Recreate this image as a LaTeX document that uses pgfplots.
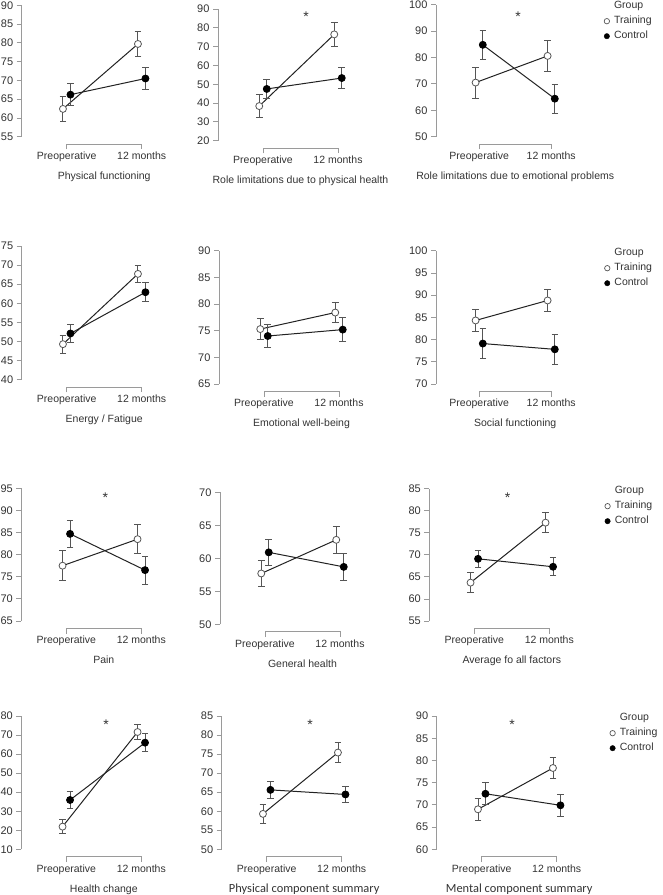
\documentclass[border=0pt]{standalone}
\usepackage{fontspec}
\setmainfont{Liberation Sans}
\newfontfamily\carlito{Carlito}
\usepackage{pgfplots}
\pgfplotsset{compat=1.18}
\definecolor{axgray}{HTML}{9A9A9A}
\definecolor{txt}{HTML}{333333}
\definecolor{ebar}{HTML}{555555}
\definecolor{lin}{HTML}{222222}
\pgfplotsset{
 common/.style={
  scale only axis, anchor=south west, clip=false,
  xmin=0.4, xmax=2.25,
  hide x axis, axis y line*=left,
  tick align=outside, major tick length=5pt,
  axis line style={draw=axgray, line width=0.8pt},
  tick style={draw=axgray, line width=0.8pt},
  yticklabel style={font=\fontsize{11}{13}\selectfont, text=txt},
  /pgf/number format/assume math mode=true,
  legend cell align=left,
  legend image code/.code={\draw[##1] plot coordinates {(0pt,0pt)};},
  legend style={draw=none, fill=none, inner sep=0pt, anchor=north west,
    font=\fontsize{10.5}{12}\selectfont, text=txt, row sep=2.5pt, column sep=3.5pt,
    nodes={inner sep=1pt, text height=8pt, text depth=2.5pt}},
 },
 panelA/.style={common, width=138.75pt},
 panelB/.style={common, width=133.2pt},
 tr/.style={lin, line width=1pt, mark=*, mark size=3.5pt,
   mark options={fill=white, draw=ebar, line width=0.8pt, solid},
   error bars/.cd, y dir=both, y explicit,
   error bar style={ebar, line width=0.9pt},
   error mark options={rotate=90, mark size=3.3pt, ebar, line width=0.9pt}},
 co/.style={lin, line width=1pt, mark=*, mark size=3.5pt,
   mark options={fill=black, draw=black, line width=0.8pt, solid},
   error bars/.cd, y dir=both, y explicit,
   error bar style={ebar, line width=0.9pt},
   error mark options={rotate=90, mark size=3.3pt, ebar, line width=0.9pt}},
}
% x "axis": bracket from Preoperative to 12 months, tick labels and title
\newcommand{\xdeco}[2]{%
  \draw[axgray, line width=0.8pt] ([yshift=-12.8pt]axis cs:1,#1) -- ([yshift=-7.3pt]axis cs:1,#1)
     -- ([yshift=-7.3pt]axis cs:2,#1) -- ([yshift=-12.8pt]axis cs:2,#1);
  \node[font=\fontsize{10.5}{12}\selectfont, text=txt, anchor=base, inner sep=0pt] at ([yshift=-22.8pt]axis cs:1,#1) {Preoperative};
  \node[font=\fontsize{10.5}{12}\selectfont, text=txt, anchor=base, inner sep=0pt] at ([yshift=-22.8pt]axis cs:2,#1) {12 months};
  \node[font=\fontsize{10.5}{12}\selectfont, text=txt, anchor=base, inner sep=0pt] at ([yshift=-43pt]axis cs:1.5,#1) {#2};
}
\newcommand{\grouplegend}{%
  \addlegendimage{empty legend}\addlegendentry{Group}
  \addlegendimage{only marks, mark=*, mark size=2.7pt, mark options={fill=white, draw=ebar, line width=0.7pt}}\addlegendentry{Training}
  \addlegendimage{only marks, mark=*, mark size=2.7pt, mark options={fill=black, draw=black}}\addlegendentry{Control}
}
\begin{document}
\begin{tikzpicture}
% ---------- Row 1 ----------
\begin{axis}[panelA, at={(21.7pt,758.3pt)}, height=131.4pt, ymin=55, ymax=90, ytick distance=5]
\addplot[tr] coordinates {(0.95,62.4) +- (0,3.25) (1.95,79.7) +- (0,3.25)};
\addplot[co] coordinates {(1.05,66.2) +- (0,2.9) (2.05,70.5) +- (0,2.9)};
\xdeco{55}{Physical functioning}
\end{axis}
\begin{axis}[panelA, at={(218pt,754.3pt)}, height=131.7pt, ymin=20, ymax=90, ytick distance=10]
\addplot[tr] coordinates {(0.95,38.4) +- (0,6.3) (1.95,76.5) +- (0,6.35)};
\addplot[co] coordinates {(1.05,47.5) +- (0,5.2) (2.05,53.3) +- (0,5.55)};
\xdeco{20}{Role limitations due to physical health}
\end{axis}
\begin{axis}[panelB, at={(436pt,758.3pt)}, height=132pt, ymin=50, ymax=100, ytick distance=10,
  legend style={at={(axis description cs:1.261,1.0375)}}]
\addplot[forget plot, tr] coordinates {(0.95,70.5) +- (0,5.9) (1.95,80.6) +- (0,5.85)};
\addplot[forget plot, co] coordinates {(1.05,84.8) +- (0,5.55) (2.05,64.4) +- (0,5.45)};
\grouplegend
\xdeco{50}{Role limitations due to emotional problems}
\end{axis}
% ---------- Row 2 ----------
\begin{axis}[panelA, at={(21.7pt,515.3pt)}, height=133.7pt, ymin=40, ymax=75, ytick distance=5]
\addplot[tr] coordinates {(0.95,49.3) +- (0,2.3) (1.95,67.7) +- (0,2.3)};
\addplot[co] coordinates {(1.05,52.1) +- (0,2.45) (2.05,62.9) +- (0,2.5)};
\xdeco{40}{Energy / Fatigue}
\end{axis}
\begin{axis}[panelA, at={(219pt,511pt)}, height=133.3pt, ymin=65, ymax=90, ytick distance=5]
\addplot[tr] coordinates {(0.95,75.3) +- (0,1.95) (1.95,78.4) +- (0,1.95)};
\addplot[co] coordinates {(1.05,74.0) +- (0,2.2) (2.05,75.2) +- (0,2.25)};
\xdeco{65}{Emotional well-being}
\end{axis}
\begin{axis}[panelB, at={(436pt,511pt)}, height=133.3pt, ymin=70, ymax=100, ytick distance=5,
  legend style={at={(axis description cs:1.264,1.0296)}}]
\addplot[forget plot, tr] coordinates {(0.95,84.3) +- (0,2.5) (1.95,88.8) +- (0,2.5)};
\addplot[forget plot, co] coordinates {(1.05,79.1) +- (0,3.45) (2.05,77.8) +- (0,3.45)};
\grouplegend
\xdeco{70}{Social functioning}
\end{axis}
% ---------- Row 3 ----------
\begin{axis}[panelA, at={(21.3pt,274pt)}, height=132.7pt, ymin=65, ymax=95, ytick distance=5]
\addplot[tr] coordinates {(0.95,77.5) +- (0,3.35) (1.95,83.5) +- (0,3.3)};
\addplot[co] coordinates {(1.05,84.7) +- (0,3.1) (2.05,76.5) +- (0,3.15)};
\xdeco{65}{Pain}
\end{axis}
\begin{axis}[panelA, at={(220pt,270.7pt)}, height=132pt, ymin=50, ymax=70, ytick distance=5]
\addplot[tr] coordinates {(0.95,57.7) +- (0,1.9) (1.95,62.8) +- (0,2.0)};
\addplot[co] coordinates {(1.05,60.9) +- (0,2.0) (2.05,58.7) +- (0,2.0)};
\xdeco{50}{General health}
\end{axis}
\begin{axis}[panelA, at={(429.3pt,274pt)}, height=132.3pt, ymin=55, ymax=85, ytick distance=5,
  legend style={at={(axis description cs:1.264,1.030)}}]
\addplot[forget plot, tr] coordinates {(0.95,63.7) +- (0,2.25) (1.95,77.3) +- (0,2.3)};
\addplot[forget plot, co] coordinates {(1.05,69.1) +- (0,1.95) (2.05,67.3) +- (0,2.05)};
\grouplegend
\xdeco{55}{Average fo all factors}
\end{axis}
% ---------- Row 4 ----------
\begin{axis}[panelA, at={(21.3pt,45.7pt)}, height=133.3pt, ymin=10, ymax=80, ytick distance=10]
\addplot[tr] coordinates {(0.95,21.9) +- (0,3.8) (1.95,71.6) +- (0,3.9)};
\addplot[co] coordinates {(1.05,35.9) +- (0,4.7) (2.05,66.0) +- (0,4.8)};
\xdeco{10}{Health change}
\end{axis}
\begin{axis}[panelA, at={(221.7pt,45.7pt)}, height=133.3pt, ymin=50, ymax=85, ytick distance=5]
\addplot[tr] coordinates {(0.95,59.3) +- (0,2.55) (1.95,75.4) +- (0,2.6)};
\addplot[co] coordinates {(1.05,65.6) +- (0,2.2) (2.05,64.4) +- (0,2.2)};
\xdeco{50}{\carlito\fontsize{12.4}{14}\selectfont Physical component summary}
\end{axis}
\begin{axis}[panelA, at={(436.7pt,45.7pt)}, height=133.3pt, ymin=60, ymax=90, ytick distance=5,
  legend style={at={(axis description cs:1.247,1.032)}}]
\addplot[forget plot, tr] coordinates {(0.95,69.0) +- (0,2.45) (1.95,78.3) +- (0,2.4)};
\addplot[forget plot, co] coordinates {(1.05,72.5) +- (0,2.5) (2.05,69.9) +- (0,2.45)};
\grouplegend
\xdeco{60}{\carlito\fontsize{12.4}{14}\selectfont Mental component summary}
\end{axis}
% ---------- significance asterisks ----------
\foreach \ax/\ay in {306/13.3, 518/13.3, 105.3/494.3, 507.7/494.3, 106/721.7, 310/721.7, 512/721.7}{
  \node[font=\fontsize{14}{16}\selectfont, text=txt, anchor=base, inner sep=0pt] at (\ax pt, 895pt-\ay pt-8pt) {*};
}
\pgfresetboundingbox
\useasboundingbox (0,0) rectangle (662pt,895pt);
\end{tikzpicture}
\end{document}
